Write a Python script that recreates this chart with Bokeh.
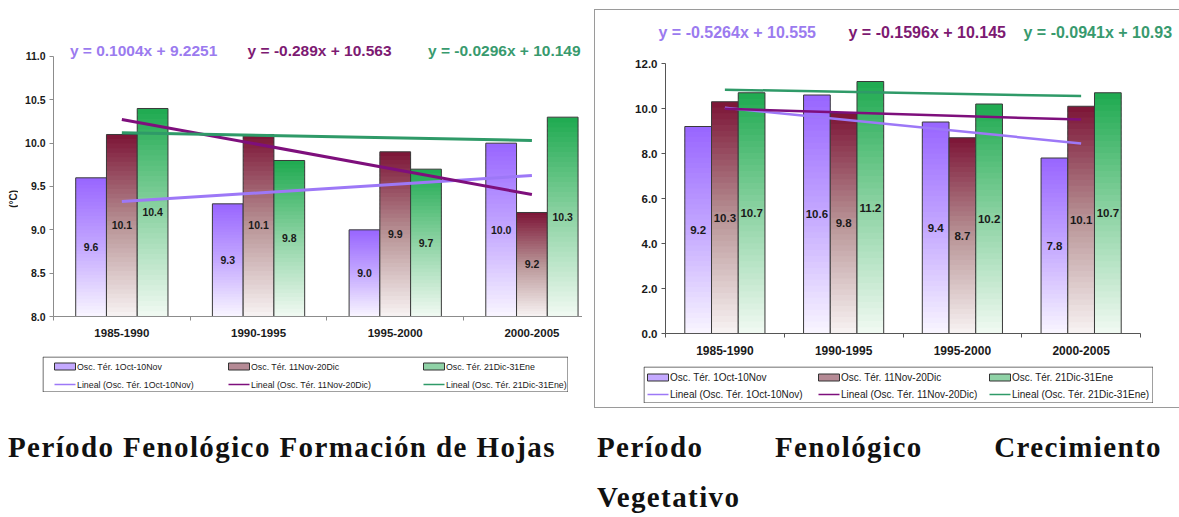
import math

from bokeh.plotting import figure
from bokeh.models import FixedTicker, NumeralTickFormatter, Div, Spacer
from bokeh.layouts import row, column
from bokeh.embed import file_html
from bokeh.resources import INLINE
from bokeh.core.properties import value

# ---- data -------------------------------------------------------------
periods = ["1985-1990", "1990-1995", "1995-2000", "2000-2005"]
series_names = ["Osc. Tér. 1Oct-10Nov", "Osc. Tér. 11Nov-20Dic", "Osc. Tér. 21Dic-31Ene"]
trend_names = ["Lineal (Osc. Tér. 1Oct-10Nov)", "Lineal (Osc. Tér. 11Nov-20Dic)",
               "Lineal (Osc. Tér. 21Dic-31Ene)"]

# Formación de Hojas (°C)
hojas_oct_nov = [9.6, 9.3, 9.0, 10.0]
hojas_nov_dic = [10.1, 10.1, 9.9, 9.2]
hojas_dic_ene = [10.4, 9.8, 9.7, 10.3]
hojas_slopes = [0.1004, -0.289, -0.0296]
hojas_intercepts = [9.2251, 10.563, 10.149]
hojas_ticks = [8.0, 8.5, 9.0, 9.5, 10.0, 10.5, 11.0]
hojas_unit = "(°C)"

# Crecimiento Vegetativo (°C)
veg_oct_nov = [9.2, 10.6, 9.4, 7.8]
veg_nov_dic = [10.3, 9.8, 8.7, 10.1]
veg_dic_ene = [10.7, 11.2, 10.2, 10.7]
veg_slopes = [-0.5264, -0.1596, -0.0941]
veg_intercepts = [10.555, 10.145, 10.93]
veg_ticks = [0.0, 2.0, 4.0, 6.0, 8.0, 10.0, 12.0]

caption_left = "Período Fenológico Formación de Hojas"
caption_right = "Período Fenológico Crecimiento Vegetativo"

# ---- styling ----------------------------------------------------------
FONT = "Liberation Sans"
BAR_STOPS = [
    [(0.0, "#f9f6ff"), (0.5, "#c4a8ff"), (1.0, "#9865ff")],
    [(0.0, "#f8f3f3"), (0.5, "#b89496"), (1.0, "#7c1436")],
    [(0.0, "#f1faf3"), (0.5, "#8ed3a4"), (1.0, "#1eaa50")],
]
SWATCH = ["#c4a9ff", "#b58a95", "#8fd2a6"]
TREND_COLORS = ["#9d78f7", "#7e0f7c", "#2f9a68"]
EQ_COLORS = ["#9b7bef", "#7d1a72", "#389a6e"]
BAR_W = 0.225


def _rgb(h):
    h = h.lstrip("#")
    return [int(h[i:i + 2], 16) for i in (0, 2, 4)]


def ramp(stops, t):
    for (p0, c0), (p1, c1) in zip(stops[:-1], stops[1:]):
        if t <= p1:
            u = (t - p0) / (p1 - p0)
            a, b = _rgb(c0), _rgb(c1)
            return "#%02x%02x%02x" % tuple(round(x + (y - x) * u) for x, y in zip(a, b))
    return stops[-1][1]


def equation(m, b):
    return "y = %sx + %s" % (m, b)


def gradient_bars(p, values, offset, base, stops, n=40):
    left, right, bottom, top, colors = [], [], [], [], []
    for i, v in enumerate(values):
        xc = i + 1 + offset
        h = v - base
        for k in range(n):
            left.append(xc - BAR_W / 2)
            right.append(xc + BAR_W / 2)
            bottom.append(base + h * k / n)
            top.append(base + h * min(k + 1.6, n) / n)
            colors.append(ramp(stops, (k + 0.5) / n))
    p.quad(left=left, right=right, bottom=bottom, top=top,
           fill_color=colors, line_color=None)
    p.vbar(x=[i + 1 + offset for i in range(len(values))], top=values, bottom=base,
           width=BAR_W, fill_color=None, line_color="#3a3a3a", line_width=1)


def chart(series, slopes, intercepts, base, axis_top, range_top, ticks, x_end,
          width, height, borders, st):
    bl, br, bt, bb = borders
    p = figure(width=width, height=height, x_range=(0.5, x_end), y_range=(base, range_top),
               output_backend="svg", toolbar_location=None,
               min_border_left=bl, min_border_right=br, min_border_top=bt,
               min_border_bottom=bb)
    p.grid.visible = False
    p.outline_line_color = None
    p.background_fill_color = "white"
    p.border_fill_color = "white"

    offsets = [-BAR_W, 0.0, BAR_W]
    for vals, off, stops in zip(series, offsets, BAR_STOPS):
        gradient_bars(p, vals, off, base, stops)

    # value labels in the middle of each bar
    for vals, off in zip(series, offsets):
        p.text(x=[i + 1 + off for i in range(len(vals))],
               y=[(base + v) / 2 for v in vals],
               text=["%.1f" % v for v in vals],
               text_align="center", text_baseline="middle",
               text_font=value(FONT), text_font_style="bold",
               text_font_size=st["value"], text_color="#1a1a1a")

    # linear trend lines, first to last period
    xs = list(range(1, len(periods) + 1))
    for m, b, c in zip(slopes, intercepts, TREND_COLORS):
        p.line(x=[xs[0], xs[-1]], y=[m * xs[0] + b, m * xs[-1] + b],
               line_color=c, line_width=st["trend_w"])

    # axes
    p.yaxis.ticker = FixedTicker(ticks=ticks)
    p.yaxis.formatter = NumeralTickFormatter(format="0.0")
    p.yaxis.bounds = (base, axis_top)
    p.yaxis.minor_tick_line_color = None
    p.yaxis.major_tick_in = 0
    p.yaxis.major_tick_out = 4
    p.yaxis.major_label_standoff = 4
    p.yaxis.axis_line_color = st["axis_col"]
    p.yaxis.major_tick_line_color = st["axis_col"]
    p.yaxis.major_label_text_font = FONT
    p.yaxis.major_label_text_font_style = "bold"
    p.yaxis.major_label_text_font_size = st["ytick"]
    p.yaxis.major_label_text_color = "#1a1a1a"

    p.xaxis.ticker = FixedTicker(ticks=xs, minor_ticks=[x - 0.5 for x in xs] + [xs[-1] + 0.5])
    p.xaxis.major_label_overrides = {x: lab for x, lab in zip(xs, periods)}
    p.xaxis.major_tick_line_color = None
    p.xaxis.minor_tick_in = 0
    p.xaxis.minor_tick_out = 4
    p.xaxis.minor_tick_line_color = st["axis_col"]
    p.xaxis.axis_line_color = st["axis_col"]
    p.xaxis.major_label_standoff = 6
    p.xaxis.major_label_text_font = FONT
    p.xaxis.major_label_text_font_style = "bold"
    p.xaxis.major_label_text_font_size = st["xtick"]
    p.xaxis.major_label_text_color = "#1a1a1a"
    return p


def blank(width, height):
    """Axis-less canvas whose data units are pixels measured from the top-left."""
    p = figure(width=width, height=height, x_range=(0, width), y_range=(height, 0),
               output_backend="svg", toolbar_location=None, min_border=0,
               x_axis_location=None, y_axis_location=None)
    p.grid.visible = False
    p.outline_line_color = None
    p.background_fill_color = "white"
    p.border_fill_color = "white"
    return p


def legend_box(width, height, col_x, row_y, font_size):
    p = blank(width, height)
    p.quad(left=[0.5], right=[width - 0.5], top=[0.5], bottom=[height - 0.5],
           fill_color=None, line_color="#404040", line_width=1)
    sw_w, sw_h = 21, 7
    p.quad(left=col_x, right=[x + sw_w for x in col_x],
           top=[row_y[0] - sw_h / 2] * 3, bottom=[row_y[0] + sw_h / 2] * 3,
           fill_color=SWATCH, line_color="#333333", line_width=1)
    p.segment(x0=col_x, x1=[x + sw_w for x in col_x], y0=[row_y[1]] * 3, y1=[row_y[1]] * 3,
              line_color=TREND_COLORS, line_width=1.5)
    p.text(x=[x + sw_w + 1.5 for x in col_x] * 2, y=[row_y[0]] * 3 + [row_y[1]] * 3,
           text=series_names + trend_names, text_baseline="middle",
           text_font=value(FONT), text_font_size=font_size, text_color="#1a1a1a")
    return p


# ---- Formación de Hojas ------------------------------------------------
hojas = chart(
    [hojas_oct_nov, hojas_nov_dic, hojas_dic_ene], hojas_slopes, hojas_intercepts,
    8.0, 11.0, 11.646, hojas_ticks, 4.37, 564, 356, (35, 0, 0, 40),
    {"value": "10.5px", "trend_w": 3, "ytick": "10.5px", "xtick": "11.5px",
     "axis_col": "#8c8c8c"})
hojas.text(x=[0.62, 1.92, 3.24], y=[11.07] * 3,
           text=[equation(m, b) for m, b in zip(hojas_slopes, hojas_intercepts)],
           text_baseline="middle", text_font=value(FONT), text_font_style="bold",
           text_font_size="15.5px", text_color=EQ_COLORS)

# rotated unit title beside the temperature axis
hojas_ylab = blank(18, 316)
hojas_ylab.text(x=[13], y=[227], text=[hojas_unit], angle=math.pi / 2,
                text_align="center", text_baseline="middle",
                text_font=value(FONT), text_font_style="bold",
                text_font_size="10px", text_color="#1a1a1a")

hojas_leg = legend_box(526, 36, [12, 186, 381], [10, 28], "8.8px")
left_col = column(row(hojas_ylab, hojas), row(Spacer(width=42), hojas_leg))

# ---- Crecimiento Vegetativo --------------------------------------------
veg_head = blank(583, 44)
veg_head.text(x=[62, 252, 427], y=[22] * 3,
              text=[equation(m, b) for m, b in zip(veg_slopes, veg_intercepts)],
              text_baseline="middle", text_font=value(FONT), text_font_style="bold",
              text_font_size="16px", text_color=EQ_COLORS)
veg = chart(
    [veg_oct_nov, veg_nov_dic, veg_dic_ene], veg_slopes, veg_intercepts,
    0.0, 12.0, 12.0, veg_ticks, 4.5, 584, 309, (70, 39, 9, 30),
    {"value": "11.5px", "trend_w": 2.5, "ytick": "11.5px", "xtick": "12px",
     "axis_col": "#555555"})
veg_leg = legend_box(510, 37, [4, 175, 346], [11, 28], "10px")
veg_box = column(row(Spacer(width=1), veg_head), veg, Spacer(height=3),
                 row(Spacer(width=48), veg_leg), Spacer(height=4),
                 styles={"border-top": "1px solid #9a9a9a",
                         "border-left": "1px solid #9a9a9a",
                         "border-bottom": "1px solid #9a9a9a"})
right_col = column(Spacer(height=9), veg_box)

# ---- captions ------------------------------------------------------------
cap_style = {"font-family": "'Liberation Serif', serif", "font-weight": "bold",
             "font-size": "29px", "line-height": "50px", "letter-spacing": "1.4px",
             "text-align": "justify", "color": "#111111"}
cap_l = Div(text=caption_left, width=575, styles=cap_style, margin=(14, 0, 0, 8))
cap_r = Div(text=caption_right, width=565, styles=cap_style, margin=(14, 0, 0, 14))

page = column(row(left_col, Spacer(width=12), right_col), row(cap_l, cap_r))

open("out.html", "w").write(file_html(page, INLINE))
